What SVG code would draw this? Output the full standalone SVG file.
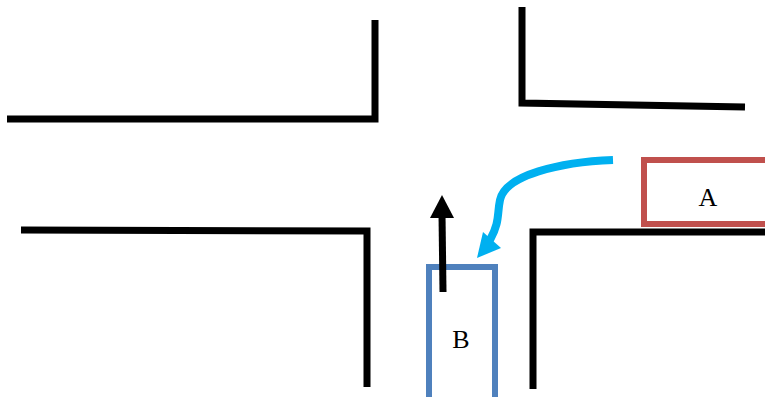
<svg xmlns="http://www.w3.org/2000/svg" width="765" height="397" viewBox="0 0 765 397">
<style>
.road{stroke:#000;stroke-width:7;fill:none;stroke-linejoin:miter}
.lbl{font-family:"Liberation Serif",serif;font-size:26px;fill:#000;text-anchor:middle}
</style>
<rect width="765" height="397" fill="#fff"/>
<g id="roads">
<polyline class="road" points="7,119 375,119 375,20"/>
<polyline class="road" points="522,7 522,103 745,107"/>
<polyline class="road" points="21,230 367,231 367,387"/>
<polyline class="road" points="533,389 533,232 765,232"/>
</g>
<g id="nodeA">
<rect x="644" y="160" width="130" height="64" fill="#fff" stroke="#C0504D" stroke-width="6"/>
<text class="lbl" x="708" y="206">A</text>
</g>
<g id="nodeB">
<rect x="429" y="267" width="66" height="140" fill="#fff" stroke="#4F81BD" stroke-width="6"/>
<text class="lbl" x="461" y="348">B</text>
</g>
<g id="connectors">
<line x1="443" y1="292" x2="442" y2="214" stroke="#000" stroke-width="7"/>
<polygon points="442,195 430,218 454,218" fill="#000"/>
<path d="M613,160 C 560,162 505,175 500,200 C 497,214 500,222 490,240" fill="none" stroke="#00B0F0" stroke-width="8"/>
<polygon points="477,258 483,232 501,248" fill="#00B0F0"/>
</g>
</svg>
